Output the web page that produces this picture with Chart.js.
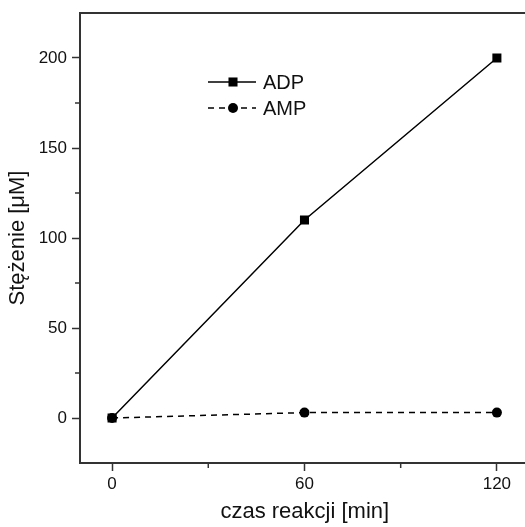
<!DOCTYPE html>
<html>
<head>
<meta charset="utf-8">
<script src="https://cdn.jsdelivr.net/npm/chart.js@4.4.1/dist/chart.umd.min.js"></script>
<style>
    html, body { margin: 0; padding: 0; background: #fff; overflow: hidden; }
    .wrap { width: 525px; height: 527px; overflow: hidden; }
    #chart { display: block; }
</style>
</head>
<body>
<div class="wrap">
    <canvas id="chart" width="536" height="527"></canvas>
</div>
<script>
// data
var times = [0, 60, 120];
var adp = [0, 110, 200];
var amp = [0, 3, 3];
var xTicks = [0, 60, 120];
var xMinor = [30, 90];
var yTicks = [0, 50, 100, 150, 200];
var yMinor = [25, 75, 125, 175];

var axisColor = '#333';
var textColor = '#111';
var font = "'Liberation Sans', Arial, sans-serif";

function toPoints(xs, ys) {
    return xs.map(function (x, i) { return { x: x, y: ys[i] }; });
}

// minor ticks, top frame line and the legend inside the plot
var extras = {
    id: 'extras',
    afterDraw: function (chart) {
        var ctx = chart.ctx,
            area = chart.chartArea,
            xs = chart.scales.x,
            ys = chart.scales.y;

        ctx.save();
        ctx.strokeStyle = axisColor;
        ctx.lineWidth = 2;

        ctx.beginPath();
        ctx.moveTo(area.left - 1, area.top);
        ctx.lineTo(chart.width, area.top);
        ctx.stroke();

        ctx.lineWidth = 1.5;
        yMinor.forEach(function (v) {
            var y = ys.getPixelForValue(v);
            ctx.beginPath();
            ctx.moveTo(area.left - 5, y);
            ctx.lineTo(area.left, y);
            ctx.stroke();
        });
        xMinor.forEach(function (v) {
            var x = xs.getPixelForValue(v);
            ctx.beginPath();
            ctx.moveTo(x, area.bottom);
            ctx.lineTo(x, area.bottom + 5);
            ctx.stroke();
        });

        // legend
        var lx = area.left + 128,
            ly = area.top + 69;
        chart.data.datasets.forEach(function (ds, i) {
            var y = ly + i * 26;
            ctx.strokeStyle = ds.borderColor;
            ctx.lineWidth = ds.borderWidth;
            ctx.setLineDash(ds.borderDash || []);
            ctx.beginPath();
            ctx.moveTo(lx, y);
            ctx.lineTo(lx + 48, y);
            ctx.stroke();
            ctx.setLineDash([]);
            ctx.fillStyle = ds.pointBackgroundColor;
            Chart.helpers.drawPoint(ctx, {
                pointStyle: ds.pointStyle,
                radius: ds.pointRadius,
                borderWidth: 0
            }, lx + 25, y);
            ctx.fillStyle = textColor;
            ctx.font = '20px ' + font;
            ctx.textBaseline = 'middle';
            ctx.fillText(ds.label, lx + 55, y + 1);
        });
        ctx.restore();
    }
};

new Chart(document.getElementById('chart').getContext('2d'), {
    type: 'line',
    plugins: [extras],
    data: {
        datasets: [
            {
                label: 'ADP',
                data: toPoints(times, adp),
                borderColor: '#000',
                borderWidth: 1.5,
                pointStyle: 'rect',
                pointRadius: 6.4,
                pointBackgroundColor: '#000',
                pointBorderColor: '#000',
                pointBorderWidth: 0
            },
            {
                label: 'AMP',
                data: toPoints(times, amp),
                borderColor: '#000',
                borderWidth: 1.5,
                borderDash: [6, 5],
                pointStyle: 'circle',
                pointRadius: 5,
                pointBackgroundColor: '#000',
                pointBorderColor: '#000',
                pointBorderWidth: 0
            }
        ]
    },
    options: {
        responsive: false,
        animation: false,
        layout: {
            padding: { top: 13, left: 0, right: 0, bottom: 0 }
        },
        scales: {
            x: {
                type: 'linear',
                min: -10,
                max: 130.2,
                afterBuildTicks: function (scale) {
                    scale.ticks = xTicks.map(function (v) { return { value: v }; });
                },
                afterFit: function (scale) {
                    scale.height = 64;
                    scale.paddingLeft = 0;
                    scale.paddingRight = 0;
                },
                grid: {
                    drawOnChartArea: false,
                    drawTicks: true,
                    tickLength: 8,
                    tickWidth: 1.5,
                    tickColor: axisColor
                },
                border: { display: true, color: axisColor, width: 2 },
                ticks: {
                    color: textColor,
                    padding: 3,
                    font: { family: font, size: 17 }
                },
                title: {
                    display: true,
                    text: 'czas reakcji [min]',
                    color: textColor,
                    font: { family: font, size: 22 },
                    padding: { top: 0, bottom: 2 }
                }
            },
            y: {
                type: 'linear',
                min: -25,
                max: 225,
                afterBuildTicks: function (scale) {
                    scale.ticks = yTicks.map(function (v) { return { value: v }; });
                },
                afterFit: function (scale) {
                    scale.width = 80;
                    scale.paddingTop = 0;
                    scale.paddingBottom = 0;
                },
                grid: {
                    drawOnChartArea: false,
                    drawTicks: true,
                    tickLength: 8,
                    tickWidth: 1.5,
                    tickColor: axisColor
                },
                border: { display: true, color: axisColor, width: 2 },
                ticks: {
                    color: textColor,
                    padding: 5,
                    font: { family: font, size: 17 }
                },
                title: {
                    display: true,
                    text: 'Stężenie [μM]',
                    color: textColor,
                    font: { family: font, size: 22 },
                    padding: { top: 5, bottom: 0 }
                }
            }
        },
        plugins: {
            legend: { display: false },
            tooltip: { enabled: false }
        }
    }
});
</script>
</body>
</html>
